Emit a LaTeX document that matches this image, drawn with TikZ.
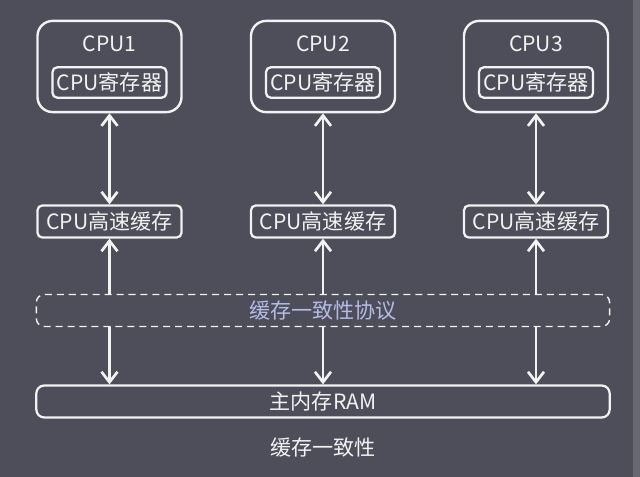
\documentclass[tikz,border=0pt]{standalone}
\usepackage{fontspec}
\setmainfont{Noto Sans CJK SC}
\usetikzlibrary{arrows.meta}

\definecolor{bgcol}{HTML}{4E4E5A}
\definecolor{edgecol}{HTML}{686873}
\definecolor{fgcol}{HTML}{F2F2F2}
\definecolor{protocol}{HTML}{B4BCE6}

\begin{document}
\begin{tikzpicture}[x=0.025cm, y=-0.025cm,
    txt/.style={text=fgcol, font=\fontsize{15}{18}\selectfont, inner sep=0pt},
    cpubox/.style={draw=fgcol, line width=1.7pt, rounded corners=0.38cm,
        minimum width=3.6cm, minimum height=2.28cm},
    regbox/.style={txt, draw=fgcol, line width=1.6pt, rounded corners=0.12cm,
        minimum width=2.85cm, minimum height=0.76cm},
    cachebox/.style={txt, draw=fgcol, line width=1.6pt, rounded corners=0.12cm,
        minimum width=3.6cm, minimum height=0.8cm},
    widebox/.style={txt, line width=1.6pt, rounded corners=0.2cm,
        minimum width=14.33cm, minimum height=0.8cm},
    link/.style={fgcol, line width=1.9pt,
        {Straight Barb[length=0.26cm,width=0.4cm]}-{Straight Barb[length=0.26cm,width=0.4cm]}}]

    % Background and the lighter edge on the right
    \fill[bgcol] (0,0) rectangle (640,477);
    \fill[edgecol] (633,0) rectangle (640,477);
    \useasboundingbox (0,0) rectangle (640,477);

    % CPU boxes with their registers
    \node[cpubox] (cpu1) at (109.5,66.5) {};
    \node[txt] (name1) at (109.5,44) {CPU1};
    \node[regbox] (reg1) at (109.5,82.5) {CPU寄存器};

    \node[cpubox] (cpu2) at (323,66.5) {};
    \node[txt] (name2) at (323,44) {CPU2};
    \node[regbox] (reg2) at (323,82.5) {CPU寄存器};

    \node[cpubox] (cpu3) at (536,66.5) {};
    \node[txt] (name3) at (536,44) {CPU3};
    \node[regbox] (reg3) at (536,82.5) {CPU寄存器};

    % Caches
    \node[cachebox] (cache1) at (109.5,221.5) {CPU高速缓存};
    \node[cachebox] (cache2) at (323,221.5) {CPU高速缓存};
    \node[cachebox] (cache3) at (536,221.5) {CPU高速缓存};

    % Main memory
    \node[widebox, draw=fgcol] (ram) at (323,401.5) {主内存RAM};

    % CPU <-> cache
    \draw[link] (cpu1.south) -- (cache1.north);
    \draw[link] (cpu2.south) -- (cache2.north);
    \draw[link] (cpu3.south) -- (cache3.north);

    % cache <-> main memory
    \draw[link] (cache1.south) -- (cache1.south |- ram.north);
    \draw[link] (cache2.south) -- (cache2.south |- ram.north);
    \draw[link] (cache3.south) -- (cache3.south |- ram.north);

    % Protocol band drawn over the lines
    \node[widebox, draw=fgcol!90, fill=bgcol, dashed, line width=1pt,
        dash pattern=on 5pt off 3.5pt, text=protocol] (mesi) at (323,310.5) {缓存一致性协议};

    % Caption
    \node[txt] (caption) at (323,448) {缓存一致性};

\end{tikzpicture}
\end{document}
